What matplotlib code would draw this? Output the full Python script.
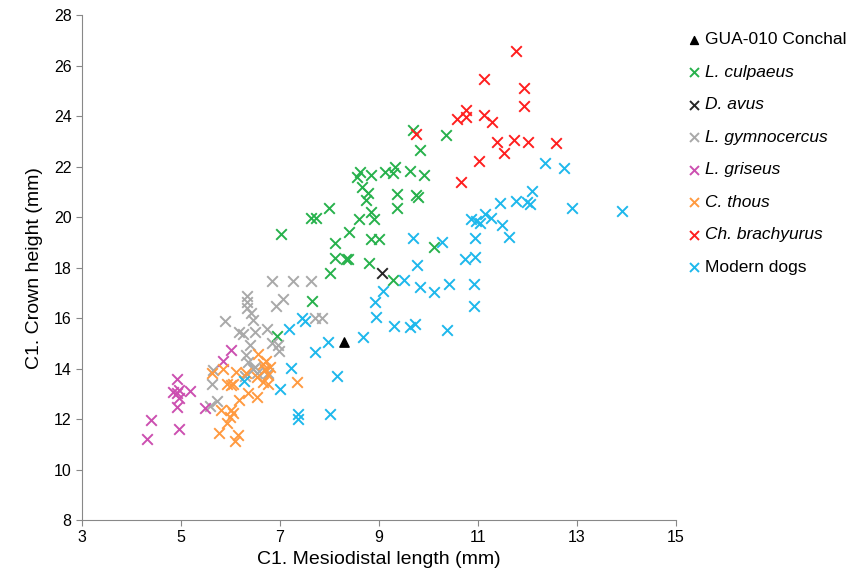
import numpy as np
import matplotlib
matplotlib.use("Agg")
import matplotlib.pyplot as plt

plt.rcParams['font.family'] = ['Liberation Sans', 'DejaVu Sans']

# GUA-010 Conchal
gua_x = [8.30]
gua_y = [15.06]

# L. culpaeus
culp_x = [9.68, 10.36, 9.82, 8.62, 8.56, 8.83, 9.12, 9.33, 9.28, 9.62, 9.90, 8.65, 8.77,
          8.74, 9.37, 9.75, 9.78, 9.37, 7.99, 7.62, 7.73, 8.59, 8.83, 8.90, 8.40, 7.03,
          8.11, 8.83, 8.99, 10.12, 8.11, 8.33, 8.38, 8.79, 8.02, 9.28, 7.64, 6.93]
culp_y = [23.47, 23.25, 22.65, 21.79, 21.60, 21.66, 21.79, 21.99, 21.73, 21.82, 21.66, 21.20, 20.94,
          20.67, 20.91, 20.87, 20.80, 20.38, 20.38, 19.95, 19.97, 19.91, 20.19, 19.92, 19.42, 19.33,
          18.98, 19.13, 19.13, 18.80, 18.40, 18.33, 18.33, 18.17, 17.77, 17.53, 16.67, 15.29]

# D. avus
davus_x = [9.06]
davus_y = [17.77]

# L. gymnocercus
gymn_x = [6.84, 7.27, 7.62, 6.34, 6.34, 6.34, 7.06, 6.92, 6.41, 6.46, 5.88, 7.71, 7.84,
          6.17, 6.26, 6.49, 6.74, 6.83, 6.96, 6.98, 6.39, 6.32, 6.36, 6.49, 6.69, 6.76,
          6.46, 6.53, 5.64, 5.62, 5.72, 5.58, 6.29]
gymn_y = [17.47, 17.47, 17.47, 16.87, 16.65, 16.41, 16.74, 16.48, 16.19, 15.92, 15.88, 15.99, 15.99,
          15.46, 15.37, 15.46, 15.55, 15.00, 14.93, 14.70, 14.93, 14.53, 14.27, 14.07, 13.94, 13.81,
          14.00, 13.81, 13.94, 13.41, 12.72, 12.52, 13.70]

# L. griseus
gris_x = [4.91, 4.84, 4.91, 4.97, 5.18, 4.97, 4.91, 5.48, 4.40, 4.96, 4.31, 6.02, 5.85]
gris_y = [13.57, 13.08, 13.02, 13.15, 13.11, 12.82, 12.49, 12.42, 11.96, 11.59, 11.22, 14.73, 14.31]

# C. thous
thous_x = [6.56, 6.71, 6.65, 6.69, 6.80, 6.76, 5.62, 5.85, 6.12, 6.32, 5.92, 6.02, 6.05, 6.66,
           6.76, 6.53, 7.34, 6.36, 6.53, 6.17, 5.80, 6.02, 6.05, 5.99, 5.92, 5.77, 6.15, 6.09]
thous_y = [14.57, 14.31, 14.17, 14.00, 14.07, 13.74, 13.81, 13.97, 13.87, 13.83, 13.41, 13.35, 13.41, 13.48,
           13.39, 13.68, 13.48, 13.02, 12.86, 12.75, 12.38, 12.38, 12.23, 12.07, 11.83, 11.46, 11.37, 11.13]

# Ch. brachyurus
brach_x = [11.77, 11.12, 11.93, 11.93, 10.76, 10.76, 10.57, 11.12, 11.28, 9.75, 11.38, 11.73,
           12.00, 12.57, 11.53, 11.01, 10.65]
brach_y = [26.59, 25.48, 25.10, 24.41, 24.26, 23.97, 23.88, 24.05, 23.77, 23.29, 22.98, 23.05,
           22.98, 22.94, 22.56, 22.23, 21.39]

# Modern dogs
dogs_x = [12.36, 12.73, 12.09, 11.44, 11.76, 11.99, 12.04, 12.90, 13.91, 10.86, 10.95, 11.03,
          11.15, 11.26, 11.49, 11.63, 9.68, 10.27, 10.93, 10.74, 10.93, 9.77, 9.51, 9.82,
          10.12, 10.41, 10.91, 10.91, 9.08, 8.91, 8.94, 9.31, 9.62, 9.73, 10.37, 8.67,
          7.97, 7.71, 7.19, 7.44, 7.50, 8.16, 7.23, 7.00, 7.36, 7.36, 8.02, 6.27]
dogs_y = [22.13, 21.93, 21.03, 20.57, 20.65, 20.61, 20.54, 20.38, 20.24, 19.92, 19.85, 19.75,
          20.11, 19.95, 19.67, 19.22, 19.16, 19.00, 19.17, 18.34, 18.43, 18.10, 17.53, 17.23,
          17.04, 17.37, 17.35, 16.50, 17.06, 16.65, 16.05, 15.68, 15.63, 15.75, 15.52, 15.26,
          15.04, 14.67, 15.55, 16.01, 15.88, 13.70, 14.03, 13.18, 12.19, 11.99, 12.19, 13.50]

fig = plt.figure(figsize=(8.61, 5.85), dpi=100)
ax = fig.add_axes([0.0952, 0.111, 0.690, 0.863])

ms = 58
lw = 1.4
ax.scatter(culp_x, culp_y, marker='x', s=ms, linewidths=lw, color='#27b14c', label='L. culpaeus', zorder=3)
ax.scatter(davus_x, davus_y, marker='x', s=ms, linewidths=lw, color='#262626', label='D. avus', zorder=3)
ax.scatter(gymn_x, gymn_y, marker='x', s=ms, linewidths=lw, color='#a9a9a9', label='L. gymnocercus', zorder=3)
ax.scatter(gris_x, gris_y, marker='x', s=ms, linewidths=lw, color='#cc4fb0', label='L. griseus', zorder=3)
ax.scatter(thous_x, thous_y, marker='x', s=ms, linewidths=lw, color='#ff9a40', label='C. thous', zorder=3)
ax.scatter(brach_x, brach_y, marker='x', s=ms, linewidths=lw, color='#ff1f1f', label='Ch. brachyurus', zorder=3)
ax.scatter(dogs_x, dogs_y, marker='x', s=ms, linewidths=lw, color='#1eb8ec', label='Modern dogs', zorder=3)
ax.scatter(gua_x, gua_y, marker='^', s=45, color='black', label='GUA-010 Conchal', zorder=4)

ax.set_xlim(3, 15)
ax.set_ylim(8, 28)
ax.set_xticks(np.arange(3, 16, 2))
ax.set_yticks(np.arange(8, 29, 2))
ax.spines['top'].set_visible(False)
ax.spines['right'].set_visible(False)
ax.spines['left'].set_color('#888888')
ax.spines['bottom'].set_color('#888888')
ax.tick_params(axis='both', labelsize=11.5, color='#888888', length=4, direction='out')
ax.set_xlabel("C1. Mesiodistal length (mm)", fontsize=14, labelpad=4)
ax.set_ylabel("C1. Crown height (mm)", fontsize=14, labelpad=8)

handles, labels = ax.get_legend_handles_labels()
order = [7, 0, 1, 2, 3, 4, 5, 6]
leg = fig.legend([handles[i] for i in order], [labels[i] for i in order],
                 loc='upper left', bbox_to_anchor=(0.792, 0.957), frameon=False,
                 fontsize=12.5, labelspacing=1.0, handlelength=0.6, handletextpad=0.35,
                 markerscale=0.85, borderaxespad=0)
for t in leg.get_texts():
    if t.get_text() not in ('GUA-010 Conchal', 'Modern dogs'):
        t.set_style('italic')

plt.savefig("out.png", dpi=100)
